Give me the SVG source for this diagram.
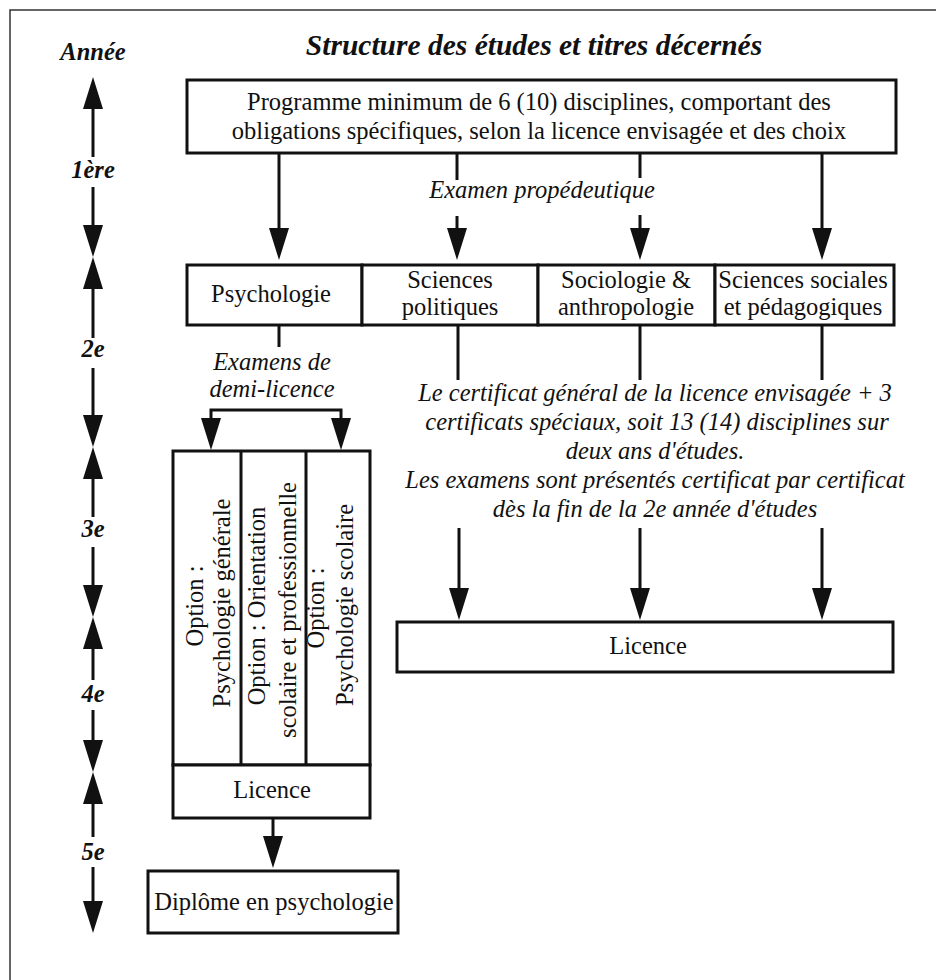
<svg xmlns="http://www.w3.org/2000/svg" width="936" height="980" viewBox="0 0 936 980">
<defs>
<style>
.t{font-family:"Liberation Serif","Times New Roman",serif;font-size:24.5px;fill:#111;text-anchor:middle}
.i{font-style:italic}
.bi{font-style:italic;font-weight:bold}
.yr{font-size:24.5px}
.title{font-size:29.5px}
.box{fill:#fff;stroke:#111;stroke-width:3}
.ln{fill:none;stroke:#111;stroke-width:3}
.frame{fill:none;stroke:#333;stroke-width:1.5}
</style>
<marker id="ah" markerUnits="userSpaceOnUse" viewBox="0 0 32 20" markerWidth="32" markerHeight="20" refX="20" refY="10" orient="auto-start-reverse"><path d="M0,0 L32,10 L0,20 z" fill="#111"/></marker>
</defs>
<rect width="936" height="980" fill="#fff"/>
<path class="frame" d="M10,980 V10 H936"/>

<g id="title"><text class="t bi title" x="534" y="55">Structure des études et titres décernés</text></g>

<g id="axis">
<text class="t bi yr" x="93" y="60">Année</text>
<text class="t bi yr" x="93" y="178">1ère</text>
<text class="t bi yr" x="93" y="357">2e</text>
<text class="t bi yr" x="93" y="537">3e</text>
<text class="t bi yr" x="93" y="702">4e</text>
<text class="t bi yr" x="93" y="860">5e</text>
<g class="ln" marker-end="url(#ah)">
<path d="M93,157 V89"/>
<path d="M93,187 V245"/>
<path d="M93,338 V269"/>
<path d="M93,368 V435"/>
<path d="M93,517 V459"/>
<path d="M93,547 V605"/>
<path d="M93,680 V629"/>
<path d="M93,710 V760"/>
<path d="M93,837 V784"/>
<path d="M93,867 V921"/>
</g>
</g>

<g id="connectors">
<g class="ln" marker-end="url(#ah)">
<path d="M279,153 V248"/>
<path d="M457,216 V248"/>
<path d="M640,215 V248"/>
<path d="M822,153 V248"/>
<path d="M459,528 V608"/>
<path d="M640,528 V608"/>
<path d="M822,528 V608"/>
<path d="M273,818 V856"/>
<path d="M211,438 V410 H341 V438" marker-start="url(#ah)"/>
</g>
<g class="ln">
<path d="M457,153 V180"/>
<path d="M640,153 V178"/>
<path d="M279,325 V347"/>
<path d="M458,325 V380"/>
<path d="M640,325 V380"/>
<path d="M822,325 V380"/>
</g>
<text class="t i" x="542" y="198">Examen propédeutique</text>
<text class="t i" x="272" y="370">Examens de</text>
<text class="t i" x="272" y="397">demi-licence</text>
<text class="t i" x="655" y="401">Le certificat général de la licence envisagée + 3</text>
<text class="t i" x="657" y="430">certificats spéciaux, soit 13 (14) disciplines sur</text>
<text class="t i" x="655" y="459">deux ans d'études.</text>
<text class="t i" x="655" y="488">Les examens sont présentés certificat par certificat</text>
<text class="t i" x="655" y="517">dès la fin de la 2e année d'études</text>
</g>

<g id="programme">
<rect class="box" x="187" y="80" width="709" height="73"/>
<text class="t" x="539" y="110">Programme minimum de 6 (10) disciplines, comportant des</text>
<text class="t" x="539" y="139">obligations spécifiques, selon la licence envisagée et des choix</text>
</g>

<g id="psychologie">
<rect class="box" x="187" y="265" width="175" height="60"/>
<text class="t" x="271" y="302">Psychologie</text>
</g>
<g id="sciences-politiques">
<rect class="box" x="362" y="265" width="176" height="60"/>
<text class="t" x="450" y="288">Sciences</text>
<text class="t" x="450" y="315">politiques</text>
</g>
<g id="sociologie">
<rect class="box" x="538" y="265" width="177" height="60"/>
<text class="t" x="626" y="288">Sociologie &amp;</text>
<text class="t" x="626" y="315">anthropologie</text>
</g>
<g id="sciences-sociales">
<rect class="box" x="715" y="265" width="179" height="60"/>
<text class="t" x="803" y="288">Sciences sociales</text>
<text class="t" x="803" y="315">et pédagogiques</text>
</g>

<g id="options">
<rect class="box" x="173" y="451" width="197" height="314"/>
<path class="ln" d="M241,451 V765 M306,451 V765"/>
<text class="t" transform="translate(203,606) rotate(-90)">Option :</text>
<text class="t" transform="translate(230,603) rotate(-90)">Psychologie générale</text>
<text class="t" transform="translate(265,606) rotate(-90)">Option : Orientation</text>
<text class="t" transform="translate(296,610) rotate(-90)">scolaire et professionnelle</text>
<text class="t" transform="translate(324,608) rotate(-90)">Option :</text>
<text class="t" transform="translate(353,605) rotate(-90)">Psychologie scolaire</text>
</g>
<g id="licence-psy">
<rect class="box" x="173" y="765" width="197" height="53"/>
<text class="t" x="272" y="798">Licence</text>
</g>

<g id="licence">
<rect class="box" x="397" y="622" width="496" height="50"/>
<text class="t" x="648" y="654">Licence</text>
</g>

<g id="diplome">
<rect class="box" x="148" y="871" width="250" height="62"/>
<text class="t" x="274" y="910">Diplôme en psychologie</text>
</g>
</svg>
